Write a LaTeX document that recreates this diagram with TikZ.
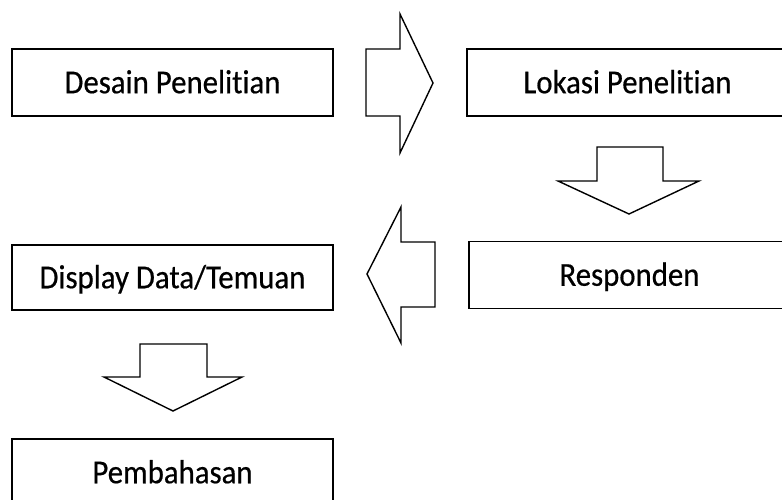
\documentclass[tikz,border=0pt]{standalone}
\usepackage{fontspec}
\setmainfont{Carlito}[FakeStretch=0.92,FakeBold=0.5,Ligatures={NoCommon}]
\usetikzlibrary{positioning}
\tikzset{kotak/.style={draw,line width=1.5pt,minimum width=321pt,minimum height=67pt,inner sep=0pt,
  text height=21.5pt,text depth=0pt,font=\fontsize{33.5}{36}\selectfont},
panah/.style={draw,line width=1.4pt,line join=miter}}

\begin{document}
\begin{tikzpicture}[x=1pt,y=-1pt]
\useasboundingbox (0,0) rectangle (782,500);
\clip (0,0) rectangle (782,500);
\node[kotak] (desain) at (172.5,82.5) {Desain Penelitian};
\node[kotak] (lokasi) at (627.5,82.5) {Lokasi Penelitian};
\node[kotak] (responden) at (629.5,275) {Responden};
\node[kotak,minimum height=65pt] (display) at (172.5,277.5) {Display Data/Temuan};
\node[kotak] (bahas) at (172.5,472.5) {Pembahasan};
% panah blok
\draw[panah] (366,49) -- (400,49) -- (400,14) -- (433,83) -- (400,153) -- (400,116) -- (366,116) -- cycle;
\draw[panah] (597,147) -- (663,147) -- (663,181) -- (699,181) -- (629,214) -- (558,181) -- (597,181) -- cycle;
\draw[panah] (435,242) -- (401,242) -- (401,207) -- (367,274) -- (401,343) -- (401,307) -- (435,307) -- cycle;
\draw[panah] (140,344) -- (207,344) -- (207,377) -- (242,377) -- (173,411) -- (104,377) -- (140,377) -- cycle;
\end{tikzpicture}
\end{document}
